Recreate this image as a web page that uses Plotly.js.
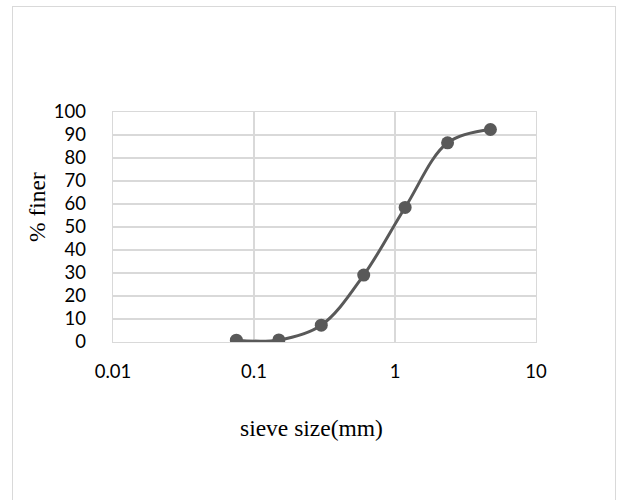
<!DOCTYPE html>
<html>
<head>
<meta charset="utf-8">
<script src="https://cdn.plot.ly/plotly-3.0.1.min.js"></script>
<style>
  html, body { margin: 0; padding: 0; background: #fff; }
  #frame { position: absolute; left: 12px; top: 6px; width: 602px; height: 520px;
           border: 1.5px solid #d9d9d9; border-bottom: none; }
  #chart { position: absolute; left: 0; top: 0; width: 617px; height: 500px; }
</style>
</head>
<body>
<div id="frame"></div>
<div id="chart"></div>
<script>
const sieveSize = [0.075, 0.15, 0.3, 0.6, 1.18, 2.36, 4.75];
const percentFiner = [0.8, 0.9, 7.3, 29.1, 58.5, 86.6, 92.4];
const xTickVals = [0.01, 0.1, 1, 10];
const xTickText = ["0.01", "0.1", "1", "10"];
const yTickVals = [0, 10, 20, 30, 40, 50, 60, 70, 80, 90, 100];
const xTitle = "sieve size(mm)";
const yTitle = "% finer";

const trace = {
  x: sieveSize,
  y: percentFiner,
  type: 'scatter',
  mode: 'lines+markers',
  line: { color: '#595959', width: 3, shape: 'spline', smoothing: 1 },
  marker: { color: '#595959', size: 13 },
  hoverinfo: 'x+y'
};

const tickFont = { family: 'Lato, "Open Sans", sans-serif', size: 18.5, color: '#000' };
const titleFont = { family: '"Liberation Serif", "Times New Roman", serif', size: 23.5, color: '#000' };

const layout = {
  width: 617, height: 500,
  margin: { l: 113, r: 81, t: 112, b: 158, pad: 0 },
  paper_bgcolor: 'rgba(0,0,0,0)',
  plot_bgcolor: 'rgba(0,0,0,0)',
  showlegend: false,
  xaxis: {
    type: 'log',
    range: [-2, 1],
    tickvals: xTickVals,
    ticktext: xTickText,
    tickfont: tickFont,
    showgrid: true, gridcolor: '#d9d9d9', gridwidth: 1.3,
    showline: true, linecolor: '#d9d9d9', linewidth: 1.3, mirror: true,
    ticks: '', ticklabelstandoff: 12,
    zeroline: false
  },
  yaxis: {
    range: [0, 100],
    tickvals: yTickVals,
    tickfont: tickFont,
    showgrid: true, gridcolor: '#d9d9d9', gridwidth: 1.3,
    showline: true, linecolor: '#d9d9d9', linewidth: 1.3, mirror: true,
    ticks: '', ticklabelstandoff: 22,
    zeroline: false
  },
  annotations: [
    { text: xTitle, xref: 'paper', yref: 'paper', x: 0, y: 0,
      xanchor: 'center', yanchor: 'middle', showarrow: false, font: titleFont },
    { text: yTitle, xref: 'paper', yref: 'paper', x: 0, y: 0,
      xanchor: 'center', yanchor: 'middle', showarrow: false, font: titleFont,
      textangle: -90 }
  ]
};
// position titles in pixel terms relative to plot area
const plotW = 617 - 113 - 81, plotH = 500 - 112 - 158;
layout.annotations[0].x = (311 - 113) / plotW;
layout.annotations[0].y = (342 - 428) / plotH;
layout.annotations[1].x = (37 - 113) / plotW;
layout.annotations[1].y = (342 - 207) / plotH;

Plotly.newPlot('chart', [trace], layout, { displayModeBar: false, staticPlot: true });
</script>
</body>
</html>
